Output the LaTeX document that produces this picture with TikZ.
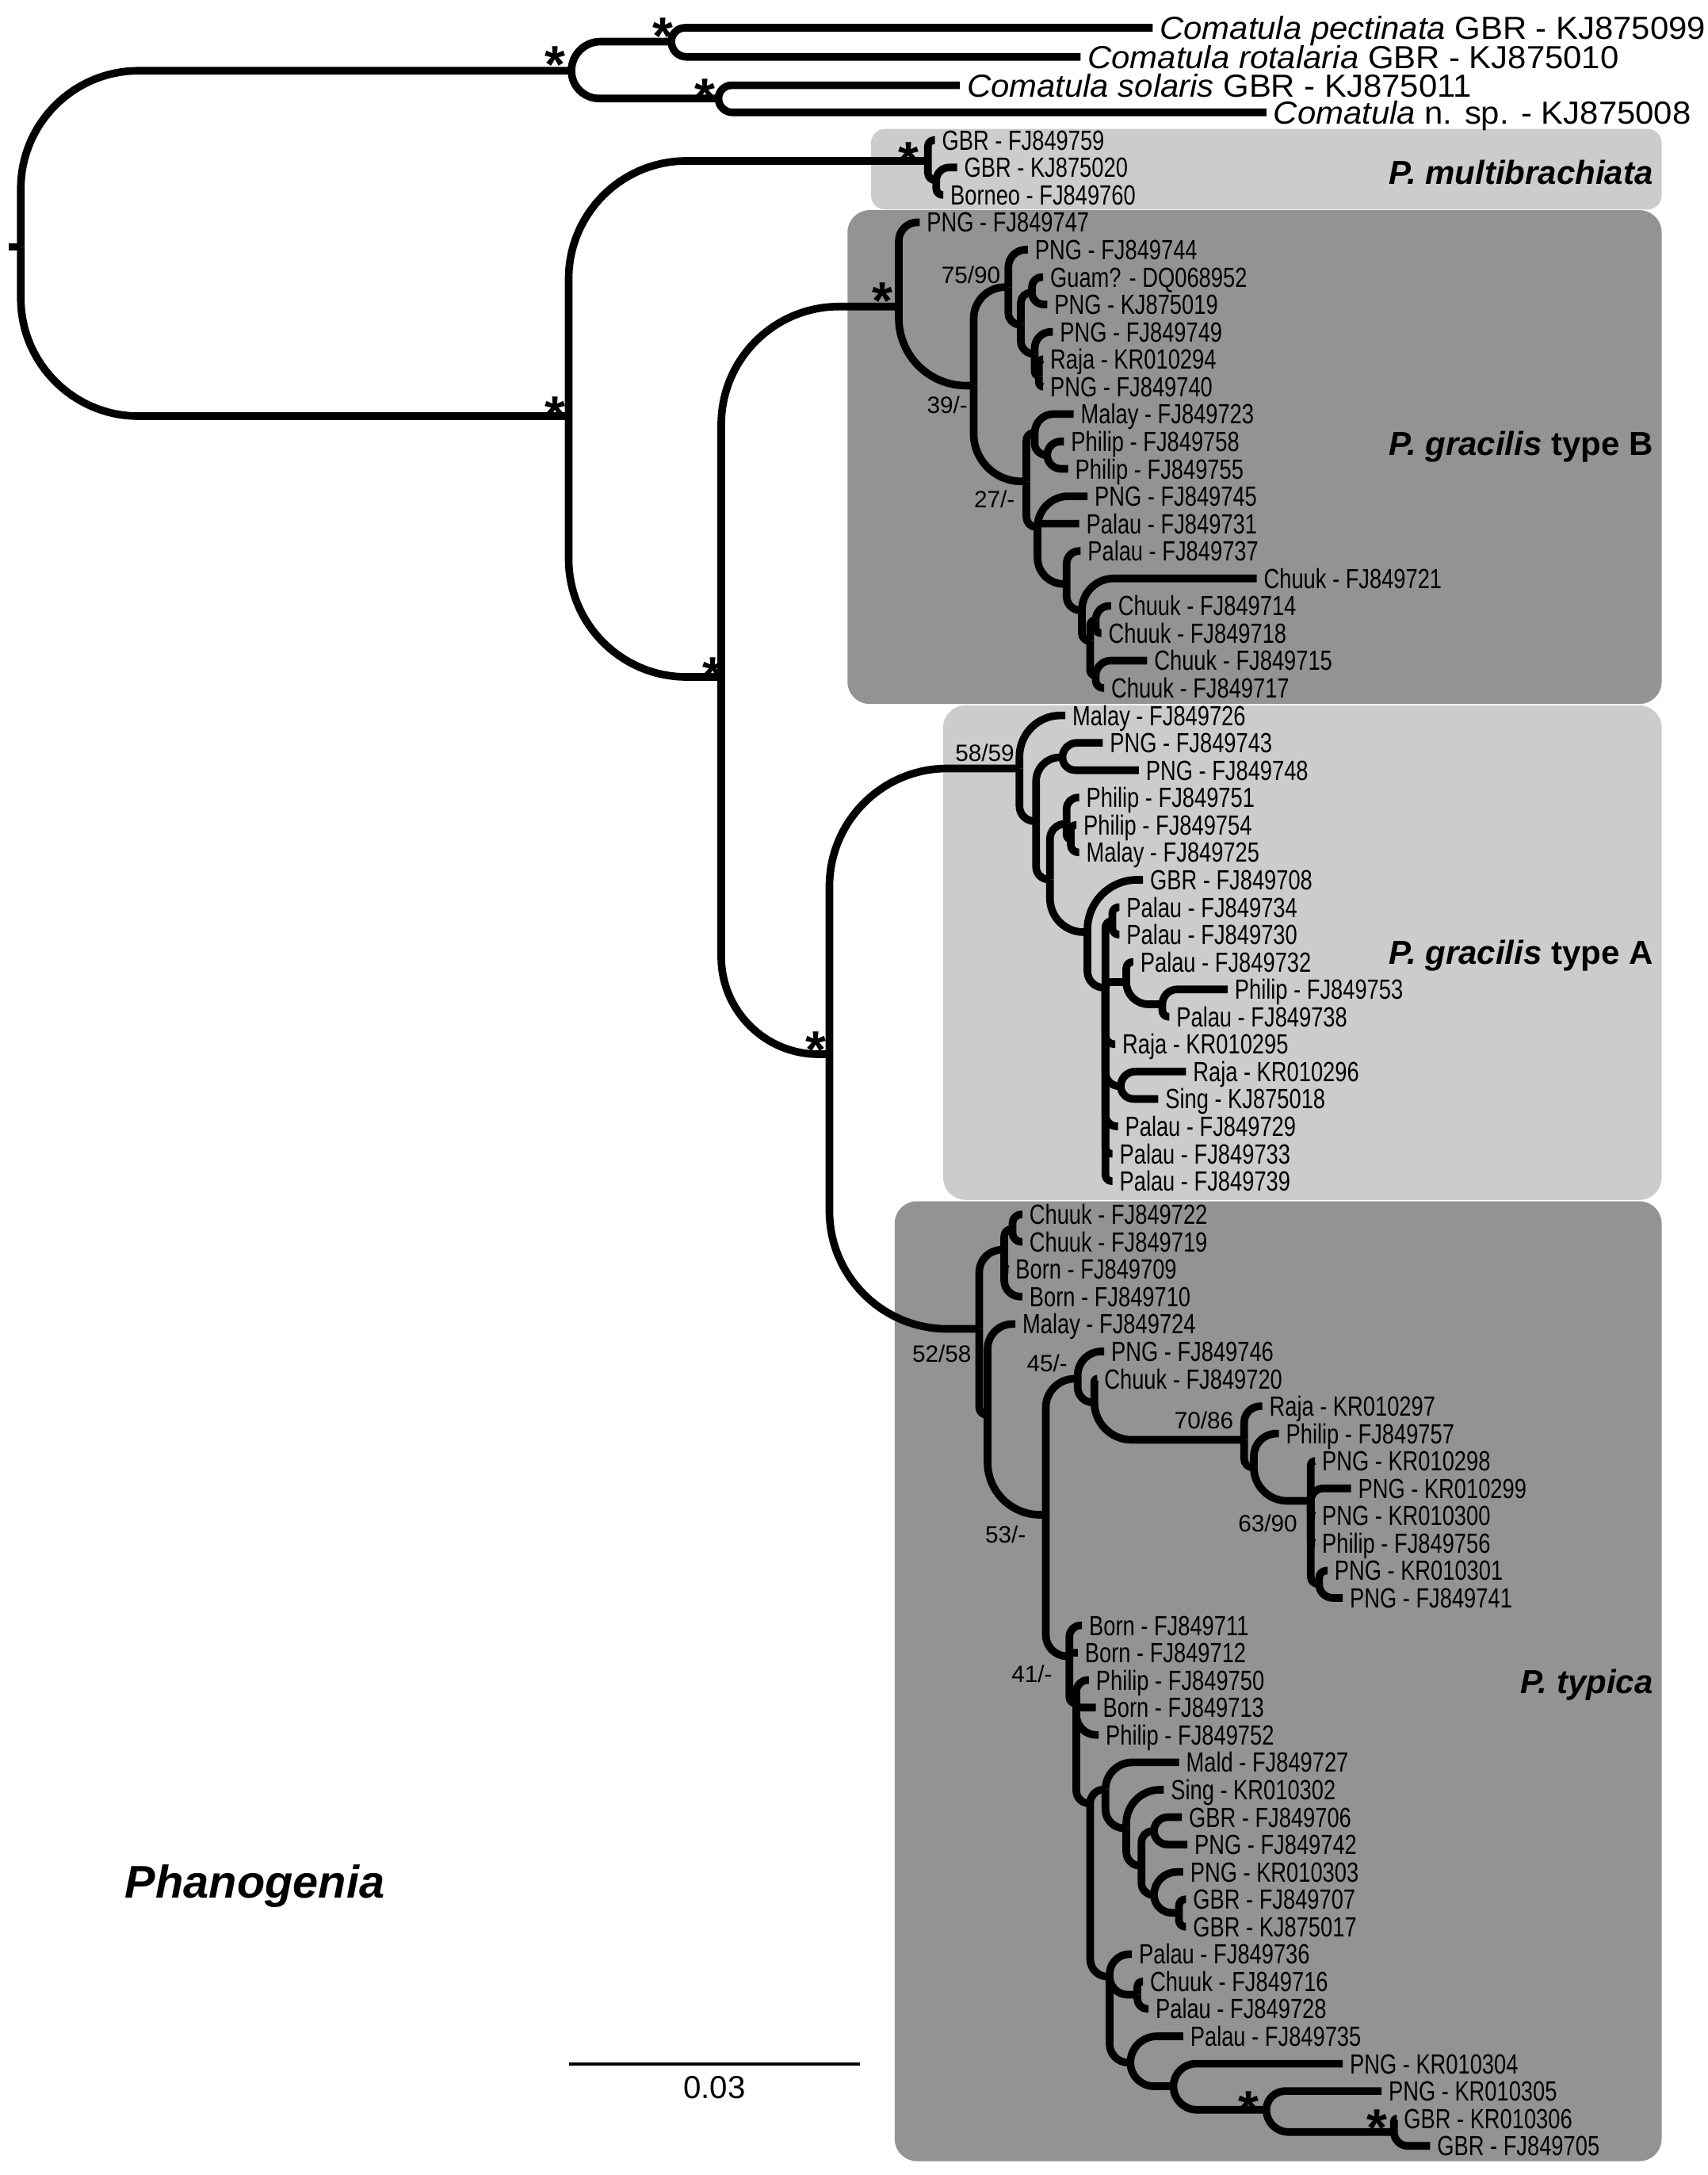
\documentclass[tikz,border=0pt]{standalone}
\usepackage{fontspec}
\setmainfont{Liberation Sans}
\newfontfamily\narrowfont[FakeStretch=0.78]{Liberation Sans}
\newfontfamily\comfont[FakeStretch=1.04]{Liberation Sans}
\usetikzlibrary{calc}
\definecolor{lightbox}{gray}{0.8}
\definecolor{darkbox}{gray}{0.575}
\tikzset{
  brline/.style={line width=5.5pt, line cap=butt, line join=round},
  tiplab/.style={anchor=west, inner xsep=5pt, inner ysep=0pt, text height=14.3pt, text depth=0pt, font=\narrowfont\fontsize{20}{20}\selectfont},
  comlab/.style={anchor=west, inner xsep=5pt, inner ysep=0pt, text height=16.5pt, text depth=0pt, font=\comfont\fontsize{23}{23}\selectfont},
  cladelab/.style={anchor=base east, inner sep=0pt, font=\fontsize{24}{24}\selectfont\bfseries},
  supplab/.style={inner sep=0pt, font=\fontsize{17}{17}\selectfont},
  starlab/.style={anchor=base, inner sep=0pt, yshift=-22pt, font=\fontsize{38}{38}\selectfont\bfseries},
}
\newcommand\br[2]{%
  \draw[brline] let \p1=(#1), \p2=(#2),
    \n1={min(abs(\y2-\y1),0.9*(\x2-\x1),85pt)},
    \n2={(\y1-\y2)/max(abs(\y1-\y2),0.01pt)}
  in (\p1) -- (\x1,{\y2+\n2*\n1})
     .. controls (\x1,{\y2+0.448*\n2*\n1}) and ({\x1+0.448*\n1},\y2)
     .. ({\x1+\n1},\y2) -- (\p2);}
\newcommand\brs[2]{\foreach \cc in {#2}{\br{#1}{\cc}}}
\begin{document}
\begin{tikzpicture}[x=1pt,y=-1pt]
\useasboundingbox (0,0) rectangle (1231,1568);
% clade boxes
\fill[lightbox, rounded corners=10pt] (628,93) rectangle (1198,151);
\fill[darkbox, rounded corners=16pt] (611,151.5) rectangle (1198,507.5);
\fill[lightbox, rounded corners=16pt] (680,508.5) rectangle (1198,865);
\fill[darkbox, rounded corners=16pt] (645,866) rectangle (1198,1558);
% Comatula tips
\node[comlab] (c1) at (831,20) {{\itshape Comatula pectinata} GBR - KJ875099};
\node[comlab] (c2) at (779,41) {{\itshape Comatula rotalaria} GBR - KJ875010};
\node[comlab] (c3) at (692,61.5) {{\itshape Comatula solaris} GBR - KJ875011};
\node[comlab] (c4) at (913,81) {{\itshape Comatula} n. sp. - KJ875008};
% P. multibrachiata
\node[tiplab] (m0) at (674,101) {GBR - FJ849759};
\node[tiplab] (m1) at (690,120.75) {GBR - KJ875020};
\node[tiplab] (m2) at (680,140.5) {Borneo - FJ849760};
% type B
\node[tiplab] (b3) at (663,160.25) {PNG - FJ849747};
\node[tiplab] (b4) at (741,180) {PNG - FJ849744};
\node[tiplab] (b5) at (752,199.75) {Guam? - DQ068952};
\node[tiplab] (b6) at (755,219.5) {PNG - KJ875019};
\node[tiplab] (b7) at (759,239.25) {PNG - FJ849749};
\node[tiplab] (b8) at (752,259) {Raja - KR010294};
\node[tiplab] (b9) at (752,278.75) {PNG - FJ849740};
\node[tiplab] (b10) at (774,298.5) {Malay - FJ849723};
\node[tiplab] (b11) at (767,318.25) {Philip - FJ849758};
\node[tiplab] (b12) at (770,338) {Philip - FJ849755};
\node[tiplab] (b13) at (784,357.75) {PNG - FJ849745};
\node[tiplab] (b14) at (778,377.5) {Palau - FJ849731};
\node[tiplab] (b15) at (779,397.25) {Palau - FJ849737};
\node[tiplab] (b16) at (906,417) {Chuuk - FJ849721};
\node[tiplab] (b17) at (801,436.75) {Chuuk - FJ849714};
\node[tiplab] (b18) at (794,456.5) {Chuuk - FJ849718};
\node[tiplab] (b19) at (827,476.25) {Chuuk - FJ849715};
\node[tiplab] (b20) at (796,496) {Chuuk - FJ849717};
% type A
\node[tiplab] (a21) at (768,515.75) {Malay - FJ849726};
\node[tiplab] (a22) at (795,535.5) {PNG - FJ849743};
\node[tiplab] (a23) at (821,555.25) {PNG - FJ849748};
\node[tiplab] (a24) at (778,575) {Philip - FJ849751};
\node[tiplab] (a25) at (776,594.75) {Philip - FJ849754};
\node[tiplab] (a26) at (778,614.5) {Malay - FJ849725};
\node[tiplab] (a27) at (824,634.25) {GBR - FJ849708};
\node[tiplab] (a28) at (807,654) {Palau - FJ849734};
\node[tiplab] (a29) at (807,673.75) {Palau - FJ849730};
\node[tiplab] (a30) at (817,693.5) {Palau - FJ849732};
\node[tiplab] (a31) at (885,713.25) {Philip - FJ849753};
\node[tiplab] (a32) at (843,733) {Palau - FJ849738};
\node[tiplab] (a33) at (804,752.75) {Raja - KR010295};
\node[tiplab] (a34) at (855,772.5) {Raja - KR010296};
\node[tiplab] (a35) at (835,792.25) {Sing - KJ875018};
\node[tiplab] (a36) at (806,812) {Palau - FJ849729};
\node[tiplab] (a37) at (802,831.75) {Palau - FJ849733};
\node[tiplab] (a38) at (802,851.5) {Palau - FJ849739};
% P. typica
\node[tiplab] (t0) at (737,875.5) {Chuuk - FJ849722};
\node[tiplab] (t1) at (737,895.25) {Chuuk - FJ849719};
\node[tiplab] (t2) at (727,915) {Born - FJ849709};
\node[tiplab] (t3) at (737,934.75) {Born - FJ849710};
\node[tiplab] (t4) at (732,954.5) {Malay - FJ849724};
\node[tiplab] (t5) at (796,974.25) {PNG - FJ849746};
\node[tiplab] (t6) at (791,994) {Chuuk - FJ849720};
\node[tiplab] (t7) at (910,1013.75) {Raja - KR010297};
\node[tiplab] (t8) at (922,1033.5) {Philip - FJ849757};
\node[tiplab] (t9) at (948,1053.25) {PNG - KR010298};
\node[tiplab] (t10) at (974,1073) {PNG - KR010299};
\node[tiplab] (t11) at (948,1092.75) {PNG - KR010300};
\node[tiplab] (t12) at (948,1112.5) {Philip - FJ849756};
\node[tiplab] (t13) at (957,1132.25) {PNG - KR010301};
\node[tiplab] (t14) at (968,1152) {PNG - FJ849741};
\node[tiplab] (t15) at (780,1171.75) {Born - FJ849711};
\node[tiplab] (t16) at (777,1191.5) {Born - FJ849712};
\node[tiplab] (t17) at (785,1211.25) {Philip - FJ849750};
\node[tiplab] (t18) at (790,1231) {Born - FJ849713};
\node[tiplab] (t19) at (792,1250.75) {Philip - FJ849752};
\node[tiplab] (t20) at (850,1270.5) {Mald - FJ849727};
\node[tiplab] (t21) at (839,1290.25) {Sing - KR010302};
\node[tiplab] (t22) at (852,1310) {GBR - FJ849706};
\node[tiplab] (t23) at (856,1329.75) {PNG - FJ849742};
\node[tiplab] (t24) at (853,1349.5) {PNG - KR010303};
\node[tiplab] (t25) at (855,1369.25) {GBR - FJ849707};
\node[tiplab] (t26) at (855,1389) {GBR - KJ875017};
\node[tiplab] (t27) at (816,1408.75) {Palau - FJ849736};
\node[tiplab] (t28) at (824,1428.5) {Chuuk - FJ849716};
\node[tiplab] (t29) at (828,1448.25) {Palau - FJ849728};
\node[tiplab] (t30) at (853,1468) {Palau - FJ849735};
\node[tiplab] (t31) at (968,1487.75) {PNG - KR010304};
\node[tiplab] (t32) at (996,1507.5) {PNG - KR010305};
\node[tiplab] (t33) at (1007,1527.25) {GBR - KR010306};
\node[tiplab] (t34) at (1031,1547) {GBR - FJ849705};
% internal nodes
\coordinate (rootstub) at (6,178);
\coordinate (root) at (15,178);
\coordinate (CA) at (412,51);
\coordinate (CP) at (484,30);
\coordinate (CS) at (518,71);
\coordinate (PH) at (410,300);
\coordinate (M0) at (669,116);
\coordinate (M1) at (675,130);
\coordinate (N1) at (520,488);
\coordinate (B0) at (648,221);
\coordinate (B1) at (702,278);
\coordinate (B2) at (727,207);
\coordinate (B2a) at (736,234);
\coordinate (G1) at (744,211);
\coordinate (G2) at (746,255);
\coordinate (G3) at (749,271);
\coordinate (B3) at (740,347);
\coordinate (BM) at (746,312);
\coordinate (BMP) at (755,328);
\coordinate (B4) at (748,380);
\coordinate (B5) at (769,421);
\coordinate (B6) at (780,440);
\coordinate (B7) at (786,462);
\coordinate (B7a) at (790,447);
\coordinate (B7b) at (790,487);
\coordinate (N2) at (598,760);
\coordinate (A0) at (735,554);
\coordinate (A1) at (747,592);
\coordinate (AP) at (766,546);
\coordinate (A2) at (757,634);
\coordinate (PG) at (769,594);
\coordinate (PG2) at (772,605);
\coordinate (A3) at (784,672);
\coordinate (A4) at (797,712);
\coordinate (PP) at (802,664);
\coordinate (P2) at (812,708);
\coordinate (P2b) at (838,724);
\coordinate (P3) at (808,783);
\coordinate (T0) at (706,958);
\coordinate (T1) at (724,901);
\coordinate (TC) at (730,886);
\coordinate (T2) at (712,1020);
\coordinate (T3) at (754,1092);
\coordinate (T4) at (777,994);
\coordinate (T5) at (789,1011);
\coordinate (T6) at (897,1038);
\coordinate (T7) at (904,1058);
\coordinate (T8) at (945,1082);
\coordinate (T8b) at (951,1142);
\coordinate (T9) at (771,1194);
\coordinate (T10) at (776,1228);
\coordinate (T11) at (786,1300);
\coordinate (T12) at (797,1290);
\coordinate (T13) at (812,1318);
\coordinate (T13b) at (823,1345);
\coordinate (TQ) at (832,1320);
\coordinate (T13c) at (832,1366);
\coordinate (TR) at (850,1379);
\coordinate (T14) at (800,1425);
\coordinate (TS) at (820,1438);
\coordinate (T15) at (815,1487);
\coordinate (T16) at (846,1504);
\coordinate (T17) at (913,1521);
\coordinate (T18) at (1005,1537);
% branches
\draw[brline] (rootstub) -- (root);
\brs{root}{CA,PH}
\brs{CA}{CP,CS}
\brs{CP}{c1.west,c2.west}
\brs{CS}{c3.west,c4.west}
\brs{PH}{M0,N1}
\brs{M0}{m0.west,M1}
\brs{M1}{m1.west,m2.west}
\brs{N1}{B0,N2}
\brs{B0}{b3.west,B1}
\brs{B1}{B2,B3}
\brs{B2}{b4.west,B2a}
\brs{B2a}{G1,G2}
\brs{G1}{b5.west,b6.west}
\brs{G2}{b7.west,G3}
\brs{G3}{b8.west,b9.west}
\brs{B3}{BM,B4}
\brs{BM}{b10.west,BMP}
\brs{BMP}{b11.west,b12.west}
\brs{B4}{b13.west,b14.west,B5}
\brs{B5}{b15.west,B6}
\brs{B6}{b16.west,B7}
\brs{B7}{B7a,B7b}
\brs{B7a}{b17.west,b18.west}
\brs{B7b}{b19.west,b20.west}
\brs{N2}{A0,T0}
\brs{A0}{a21.west,A1}
\brs{A1}{AP,A2}
\brs{AP}{a22.west,a23.west}
\brs{A2}{PG,A3}
\brs{PG}{a24.west,PG2}
\brs{PG2}{a25.west,a26.west}
\brs{A3}{a27.west,A4}
\brs{A4}{PP,P2,a33.west,P3,a36.west,a37.west,a38.west}
\brs{PP}{a28.west,a29.west}
\brs{P2}{a30.west,P2b}
\brs{P2b}{a31.west,a32.west}
\brs{P3}{a34.west,a35.west}
\brs{T0}{T1,T2}
\brs{T1}{TC,t2.west,t3.west}
\brs{TC}{t0.west,t1.west}
\brs{T2}{t4.west,T3}
\brs{T3}{T4,T9}
\brs{T4}{t5.west,T5}
\brs{T5}{t6.west,T6}
\brs{T6}{t7.west,T7}
\brs{T7}{t8.west,T8}
\brs{T8}{t9.west,t10.west,t11.west,t12.west,T8b}
\brs{T8b}{t13.west,t14.west}
\brs{T9}{t15.west,t16.west,T10}
\brs{T10}{t17.west,t18.west,t19.west,T11}
\brs{T11}{T12,T14}
\brs{T12}{t20.west,T13}
\brs{T13}{t21.west,T13b}
\brs{T13b}{TQ,T13c}
\brs{TQ}{t22.west,t23.west}
\brs{T13c}{t24.west,TR}
\brs{TR}{t25.west,t26.west}
\brs{T14}{t27.west,TS,T15}
\brs{TS}{t28.west,t29.west}
\brs{T15}{t30.west,T16}
\brs{T16}{t31.west,T17}
\brs{T17}{t32.west,T18}
\brs{T18}{t33.west,t34.west}
% support values
\node[supplab] (s7590) at (700,198) {75/90};
\node[supplab] (s39) at (683,292) {39/-};
\node[supplab] (s27) at (717,360) {27/-};
\node[supplab] (s5859) at (710,543) {58/59};
\node[supplab] (s5258) at (679,976) {52/58};
\node[supplab] (s45) at (755,983) {45/-};
\node[supplab] (s7086) at (868,1024) {70/86};
\node[supplab] (s53) at (725,1106) {53/-};
\node[supplab] (s6390) at (914,1098) {63/90};
\node[supplab] (s41) at (744,1207) {41/-};
% stars
\node[starlab] (st1) at (400,38) {*};
\node[starlab] (st2) at (478,17) {*};
\node[starlab] (st3) at (508,61) {*};
\node[starlab] (st4) at (655,107) {*};
\node[starlab] (st5) at (400,290) {*};
\node[starlab] (st6) at (636,208) {*};
\node[starlab] (st7) at (514,478) {*};
\node[starlab] (st8) at (588,748) {*};
\node[starlab] (st9) at (900,1512) {*};
\node[starlab] (st10) at (993,1525) {*};
% clade labels
\node[cladelab] (lm) at (1192,133) {\itshape P. multibrachiata};
\node[cladelab] (lb) at (1192,328) {{\itshape P. gracilis} type B};
\node[cladelab] (la) at (1192,695) {{\itshape P. gracilis} type A};
\node[cladelab] (lt) at (1192,1221) {\itshape P. typica};
\node[anchor=base west, inner sep=0pt, font=\fontsize{33}{33}\selectfont\bfseries\itshape] (phan) at (90,1368) {Phanogenia};
% scale bar
\coordinate (sbL) at (410,1488);
\coordinate (sbR) at (620,1488);
\draw[line width=2.5pt] (sbL) -- (sbR);
\node[anchor=base, inner sep=0pt, font=\fontsize{23}{23}\selectfont] (sbt) at (515,1513) {0.03};
\end{tikzpicture}
\end{document}
